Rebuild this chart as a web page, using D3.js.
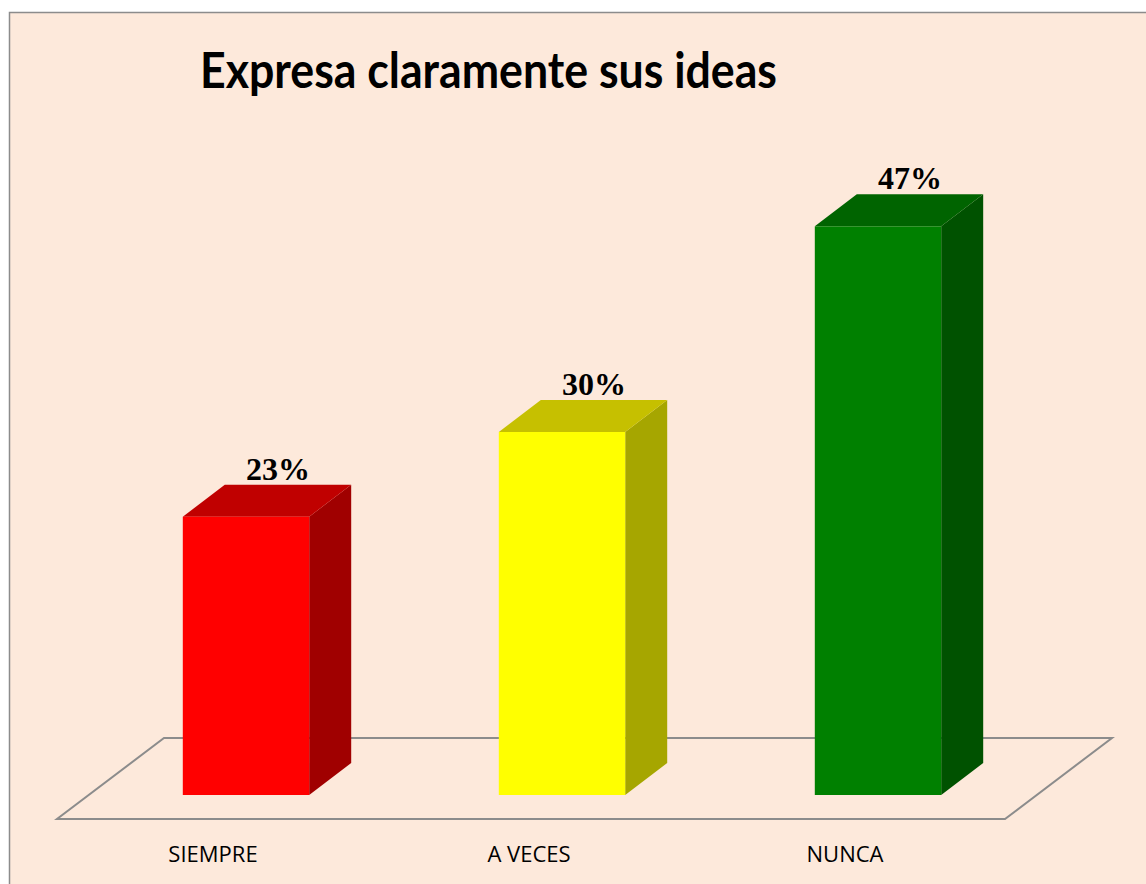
<!DOCTYPE html>
<html>
<head>
<meta charset="utf-8">
<script src="https://cdn.jsdelivr.net/npm/d3@7"></script>
<style>
  html, body { margin: 0; padding: 0; background: #fff; }
  svg { display: block; }
</style>
</head>
<body>
<svg width="1146" height="884"></svg>
<script>
// Data
var categories = ["SIEMPRE", "A VECES", "NUNCA"];
var values = [23, 30, 47];
var labels = ["23%", "30%", "47%"];
var frontColors = ["#ff0000", "#ffff00", "#008000"];
var topColors = ["#c00000", "#c6c000", "#006400"];
var sideColors = ["#a00000", "#a6a600", "#005200"];

var svg = d3.select("svg"),
    width = +svg.attr("width"),
    height = +svg.attr("height");

// 3D depth offset
var dx = 42, dy = -32;

// chart background + border (runs off the page on right/bottom)
svg.append("rect")
    .attr("x", 9.5).attr("y", 12.5)
    .attr("width", width + 20).attr("height", height + 20)
    .attr("fill", "#fde9db")
    .attr("stroke", "#8c8c8c")
    .attr("stroke-width", 1.5);

// title
svg.append("text")
    .attr("x", 200).attr("y", 88)
    .attr("font-family", "Lato, 'Open Sans', sans-serif")
    .attr("font-weight", "bold")
    .attr("font-size", 50)
    .attr("textLength", 577)
    .attr("lengthAdjust", "spacingAndGlyphs")
    .attr("fill", "#000")
    .text("Expresa claramente sus ideas");

// scales
var x = d3.scaleBand()
    .domain(categories)
    .range([88, 1036])
    .paddingInner(0.6)
    .paddingOuter(0.3);

var y = d3.scaleLinear()
    .domain([0, 50])
    .range([795, 190]);

// floor
var fl = 57, fr = 1005, fy = 819, fdx = 107, fdy = -81;
svg.append("path")
    .attr("d", d3.line()([[fl, fy], [fr, fy], [fr + fdx, fy + fdy], [fl + fdx, fy + fdy]]) + "Z")
    .attr("fill", "none")
    .attr("stroke", "#8c8c8c")
    .attr("stroke-width", 2);

// bars
var bars = svg.append("g")
    .selectAll("g")
    .data(categories)
    .enter()
    .append("g");

var bw = x.bandwidth();

// side face
bars.append("path")
    .attr("d", function (d, i) {
        var x1 = x(d) + bw, yt = y(values[i]), yb = y(0);
        return d3.line()([[x1, yb], [x1, yt], [x1 + dx, yt + dy], [x1 + dx, yb + dy]]) + "Z";
    })
    .attr("fill", function (d, i) { return sideColors[i]; });

// top face
bars.append("path")
    .attr("d", function (d, i) {
        var x0 = x(d), yt = y(values[i]);
        return d3.line()([[x0, yt], [x0 + bw, yt], [x0 + bw + dx, yt + dy], [x0 + dx, yt + dy]]) + "Z";
    })
    .attr("fill", function (d, i) { return topColors[i]; });

// front face
bars.append("rect")
    .attr("x", function (d) { return x(d); })
    .attr("y", function (d, i) { return y(values[i]); })
    .attr("width", bw)
    .attr("height", function (d, i) { return y(0) - y(values[i]); })
    .attr("fill", function (d, i) { return frontColors[i]; });

// value labels
bars.append("text")
    .attr("x", function (d) { return x(d) + bw / 2 + 32; })
    .attr("y", function (d, i) { return y(values[i]) + dy - 5; })
    .attr("text-anchor", "middle")
    .attr("font-family", "'Liberation Serif', 'Times New Roman', serif")
    .attr("font-weight", "bold")
    .attr("font-size", 32)
    .attr("fill", "#000")
    .text(function (d, i) { return labels[i]; });

// category labels
svg.append("g")
    .selectAll("text")
    .data(categories)
    .enter()
    .append("text")
    .attr("x", function (d) { return x(d) + bw / 2 - 33; })
    .attr("y", 862)
    .attr("text-anchor", "middle")
    .attr("font-family", "'Open Sans', sans-serif")
    .attr("font-size", 22)
    .attr("fill", "#000")
    .text(function (d) { return d; });
</script>
</body>
</html>
